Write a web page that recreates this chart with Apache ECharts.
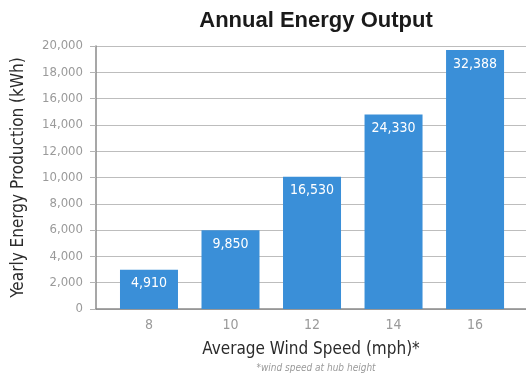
<!DOCTYPE html>
<html>
<head>
<meta charset="utf-8">
<title>Annual Energy Output</title>
<script src="https://cdn.jsdelivr.net/npm/echarts@6/dist/echarts.min.js"></script>
<style>
  html, body { margin: 0; padding: 0; background: #ffffff; }
  #chart { width: 526px; height: 373px; }
</style>
</head>
<body>
<div id="chart"></div>
<script>
// Wind speed at hub height (mph)
const windSpeeds = [8, 10, 12, 14, 16];
// Yearly energy production (kWh) per wind speed
const yearlyOutput = [4910, 9850, 16530, 24330, 32388];
// Printed tick scale of the production axis
const tickMin = 0;
const tickMax = 20000;
const tickStep = 2000;

const narrow = '"Liberation Sans Narrow", "DejaVu Sans Condensed", "Roboto", sans-serif';
const fmt = v => Number(v).toLocaleString('en-US');

const chart = echarts.init(document.getElementById('chart'), null, { renderer: 'canvas' });

chart.setOption({
  backgroundColor: '#ffffff',
  animation: false,
  title: [
    {
      text: 'Annual Energy Output',
      left: 311, top: 5, textAlign: 'center',
      textStyle: { fontFamily: '"Liberation Sans", Arial, sans-serif', fontWeight: 'bold', fontSize: 22, color: '#1a1a1a' }
    },
    {
      text: '*wind speed at hub height',
      left: 311, top: 358, textAlign: 'center',
      textStyle: { fontFamily: narrow, fontStyle: 'italic', fontWeight: 'normal', fontSize: 10, color: '#9a9a9a' }
    }
  ],
  grid: { left: 96, right: 0, top: 46, bottom: 64, containLabel: false, outerBoundsMode: 'none' },
  xAxis: {
    type: 'value',
    min: 6.7,
    max: 17.25,
    name: 'Average Wind Speed (mph)*',
    nameLocation: 'middle',
    nameGap: 32,
    nameTextStyle: { fontFamily: narrow, fontSize: 17, color: '#2b2b2b' },
    axisLine: { show: true, lineStyle: { color: '#8a8a8a', width: 1.5 } },
    axisTick: { show: false },
    splitLine: { show: false },
    axisLabel: {
      customValues: windSpeeds,
      color: '#9a9a9a',
      fontFamily: narrow,
      fontSize: 14,
      margin: 9
    }
  },
  yAxis: [
    {
      type: 'value',
      min: tickMin,
      max: tickMax,
      interval: tickStep,
      name: 'Yearly Energy Production (kWh)',
      nameLocation: 'middle',
      nameRotate: 90,
      nameGap: 69,
      nameTextStyle: { fontFamily: narrow, fontSize: 17, color: '#2b2b2b' },
      axisLine: { show: true, lineStyle: { color: '#8a8a8a', width: 1.5 } },
      axisTick: { show: true, length: 6, lineStyle: { color: '#b4b4b4' } },
      splitLine: { show: true, lineStyle: { color: '#bdbdbd', width: 1.2 } },
      axisLabel: {
        color: '#9a9a9a',
        fontFamily: narrow,
        fontSize: 13,
        margin: 13,
        formatter: fmt
      }
    },
    {
      // Scale the bars are drawn on
      type: 'value',
      min: 0,
      max: 32880,
      show: false,
      splitLine: { show: false }
    }
  ],
  series: [
    {
      type: 'bar',
      yAxisIndex: 1,
      barWidth: 58,
      data: windSpeeds.map((s, i) => [s, yearlyOutput[i]]),
      itemStyle: { color: '#3a8fd8' },
      label: {
        show: true,
        position: 'insideTop',
        distance: 7,
        color: '#ffffff',
        fontFamily: narrow,
        fontSize: 14,
        formatter: p => fmt(p.value[1])
      }
    }
  ]
});
</script>
</body>
</html>
